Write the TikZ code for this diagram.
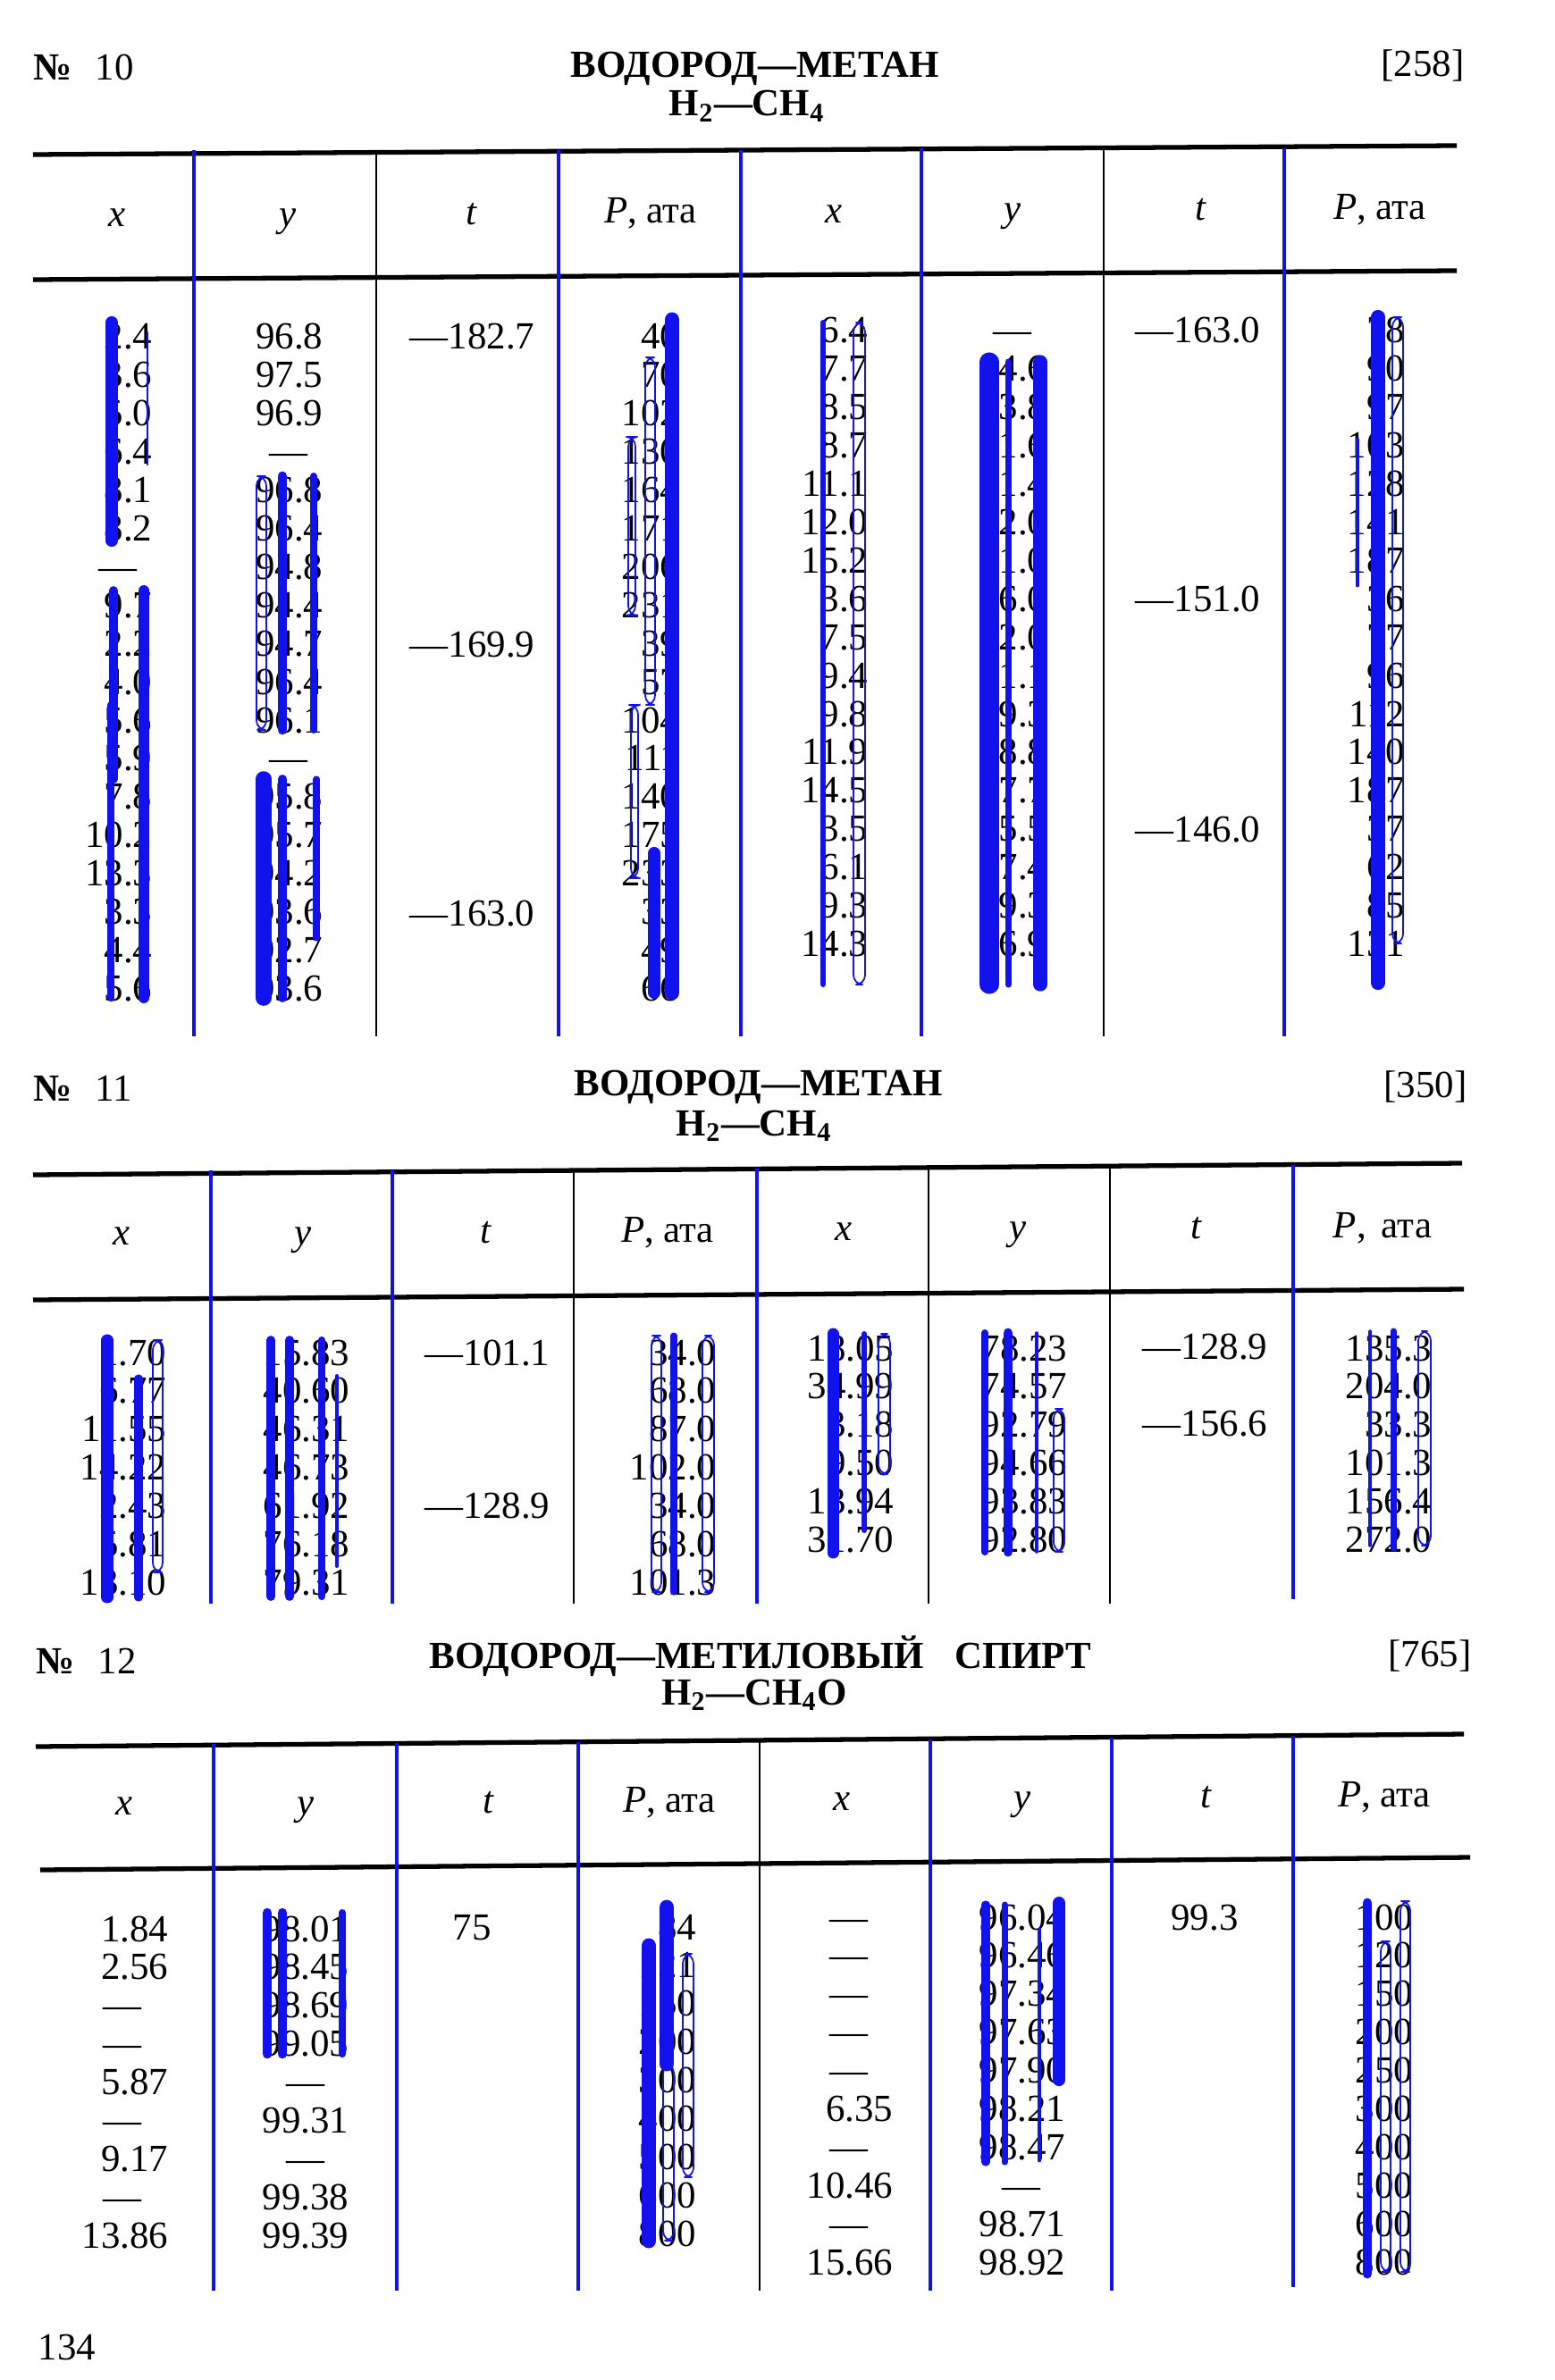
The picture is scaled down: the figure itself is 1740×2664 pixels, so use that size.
\documentclass[tikz,border=0pt]{standalone}
\usepackage{fontspec}
\setmainfont{Liberation Serif}
\definecolor{mark}{RGB}{18,18,238}
\newcommand{\nd}[1][1.8em]{\makebox[#1][c]{—}}
\newcommand{\col}[1]{\begin{tabular}[t]{@{}r@{}}#1\end{tabular}}

\begin{document}
\begin{tikzpicture}[x=0.01cm, y=-0.01cm,
  every node/.style={inner sep=0pt, font=\fontsize{12.2}{12.2}\selectfont},
  num/.style={anchor=base east},
  colhead/.style={anchor=base},
  tabtitle/.style={anchor=base, font=\fontsize{12.2}{14}\selectfont\bfseries},
  hrule/.style={line width=1.5pt},
  vsep/.style={line width=1pt, draw=mark},
  vsepk/.style={line width=0.6pt},
  mk/.style={draw=mark, line cap=round},
  ring/.style={draw=mark, line width=0.5pt, rounded corners=3}]
\useasboundingbox (0,0) rectangle (1740,2664);

\node[anchor=base west] (no10) at (37,90) {\textbf{№}\hspace{0.6em}10};
\node[tabtitle] (name10) at (845,87) {ВОДОРОД—МЕТАН};
\node[tabtitle] (form10) at (836,130) {H\textsubscript{2}—CH\textsubscript{4}};
\node[anchor=base east] (ref10) at (1639,86) {[258]};
\draw[hrule] (37,173) -- (1630,163);
\draw[hrule] (37,313) -- (1630,303);
\draw[vsep] (217,168) -- (217,1160);
\draw[vsepk] (421,168) -- (421,1160);
\draw[vsep] (625,168) -- (625,1160);
\draw[vsep] (829,168) -- (829,1160);
\draw[vsep] (1031,166) -- (1031,1160);
\draw[vsepk] (1235,166) -- (1235,1160);
\draw[vsep] (1437,166) -- (1437,1160);
\node[colhead] (h10x) at (131,254) {\textit{x}};
\node[colhead] (h10y) at (322,254) {\textit{y}};
\node[colhead] (h10t) at (528,252) {\textit{t}};
\node[colhead] (h10p) at (728,250) {\textit{P}, ата};
\node[colhead] (h10x2) at (933,250) {\textit{x}};
\node[colhead] (h10y2) at (1133,248) {\textit{y}};
\node[colhead] (h10t2) at (1344,247) {\textit{t}};
\node[colhead] (h10p2) at (1544,246) {\textit{P}, ата};
\node[num] (d10x) at (171,391) {\col{2.4\\3.6\\5.0\\6.4\\8.1\\8.2\\\nd\\9.7\\2.2\\4.0\\5.6\\5.9\\7.8\\10.2\\13.3\\3.3\\4.4\\5.6}};
\node[num] (d10y) at (362,391) {\col{96.8\\97.5\\96.9\\\nd\\96.8\\96.4\\94.8\\94.4\\94.7\\96.4\\96.1\\\nd\\95.8\\95.7\\94.2\\93.6\\92.7\\93.6}};
\node[num] (d10ta) at (599,391) {—182.7};
\node[num] (d10tb) at (599,735) {—169.9};
\node[num] (d10tc) at (599,1036) {—163.0};
\node[num] (d10p) at (761,391) {\col{40\\70\\102\\130\\164\\171\\206\\231\\39\\57\\104\\111\\140\\175\\233\\33\\49\\66}};
\node[num] (d10x2) at (972,384) {\col{6.4\\7.7\\8.5\\8.7\\11.1\\12.0\\15.2\\3.6\\7.5\\9.4\\9.8\\11.9\\14.5\\3.5\\6.1\\9.3\\14.3}};
\node[num] (d10y2) at (1172,384) {\col{\nd\\94.6\\93.8\\91.6\\91.4\\92.0\\91.0\\86.0\\92.0\\91.1\\89.3\\88.8\\87.7\\85.5\\87.4\\89.3\\86.9}};
\node[num] (d10ta2) at (1411,384) {—163.0};
\node[num] (d10tb2) at (1411,684) {—151.0};
\node[num] (d10tc2) at (1411,942) {—146.0};
\node[num] (d10p2) at (1573,384) {\col{78\\90\\97\\103\\128\\141\\187\\36\\77\\96\\112\\140\\187\\37\\62\\85\\131}};
\draw[mk, line width=4pt] (125,361) -- (125,605);
\draw[mk, line width=0.8pt] (165,372) -- (165,520);
\draw[mk, line width=2.8pt] (127,661) -- (127,872);
\draw[mk, line width=3.4pt] (161,661) -- (161,1117);
\draw[mk, line width=2.3pt] (124,789) -- (124,1117);
\draw[ring] (287,533) rectangle (298,817);
\draw[mk, line width=3.1pt] (316,533) -- (316,817);
\draw[mk, line width=2.3pt] (351,533) -- (351,817);
\draw[mk, line width=5pt] (295,872) -- (295,1117);
\draw[mk, line width=2.8pt] (316,872) -- (316,1117);
\draw[mk, line width=2pt] (354,872) -- (354,1050);
\draw[mk, line width=4.8pt] (752,358) -- (752,1111);
\draw[ring] (722,400) rectangle (733,789);
\draw[ring] (703,489) rectangle (711,689);
\draw[ring] (706,789) rectangle (714,983);
\draw[mk, line width=4pt] (732,955) -- (732,1111);
\draw[mk, line width=1.7pt] (921,361) -- (921,1102);
\draw[ring] (955,361) rectangle (968,1102);
\draw[mk, line width=6pt] (1107,405) -- (1107,1102);
\draw[mk, line width=2pt] (1128,405) -- (1128,1102);
\draw[mk, line width=4.3pt] (1164,405) -- (1164,1102);
\draw[mk, line width=4.6pt] (1542,355) -- (1542,1100);
\draw[ring] (1558,355) rectangle (1570,1056);
\draw[mk, line width=1.4pt] (1519,492) -- (1519,655);

\node[anchor=base west] (no11) at (37,1232) {\textbf{№}\hspace{0.6em}11};
\node[tabtitle] (name11) at (849,1226) {ВОДОРОД—МЕТАН};
\node[tabtitle] (form11) at (844,1271) {H\textsubscript{2}—CH\textsubscript{4}};
\node[anchor=base east] (ref11) at (1642,1228) {[350]};
\draw[hrule] (37,1315) -- (1636,1302);
\draw[hrule] (37,1455) -- (1638,1443);
\draw[vsep] (236,1310) -- (236,1795);
\draw[vsep] (439,1310) -- (439,1795);
\draw[vsepk] (642,1308) -- (642,1795);
\draw[vsep] (847,1308) -- (847,1795);
\draw[vsepk] (1039,1306) -- (1039,1795);
\draw[vsepk] (1242,1305) -- (1242,1795);
\draw[vsep] (1447,1304) -- (1447,1790);
\node[colhead] (h11x) at (136,1393) {\textit{x}};
\node[colhead] (h11y) at (339,1393) {\textit{y}};
\node[colhead] (h11t) at (544,1391) {\textit{t}};
\node[colhead] (h11p) at (747,1390) {\textit{P}, ата};
\node[colhead] (h11x2) at (944,1388) {\textit{x}};
\node[colhead] (h11y2) at (1139,1387) {\textit{y}};
\node[colhead] (h11t2) at (1339,1386) {\textit{t}};
\node[colhead] (h11p2) at (1547,1385) {\textit{P},\hspace{0.4em}ата};
\node[num] (d11x) at (187,1528) {\col{1.70\\6.77\\11.55\\14.22\\2.43\\5.81\\13.10}};
\node[num] (d11y) at (392,1528) {\col{15.83\\40.60\\46.31\\46.73\\61.92\\76.18\\79.31}};
\node[num] (d11ta) at (616,1528) {—101.1};
\node[num] (d11tb) at (616,1699) {—128.9};
\node[num] (d11p) at (802,1528) {\col{34.0\\68.0\\87.0\\102.0\\34.0\\68.0\\101.3}};
\node[num] (d11x2) at (1001,1523) {\col{18.05\\34.99\\3.18\\9.50\\13.94\\31.70}};
\node[num] (d11y2) at (1195,1523) {\col{78.23\\74.57\\92.79\\94.66\\93.83\\92.80}};
\node[num] (d11ta2) at (1419,1521) {—128.9};
\node[num] (d11tb2) at (1419,1607) {—156.6};
\node[num] (d11p2) at (1603,1523) {\col{135.3\\204.0\\33.3\\101.3\\156.4\\272.0}};
\draw[mk, line width=3.7pt] (120,1500) -- (120,1788);
\draw[mk, line width=2.6pt] (155,1543) -- (155,1788);
\draw[ring] (171,1500) rectangle (182,1760);
\draw[mk, line width=2.8pt] (303,1500) -- (303,1787);
\draw[mk, line width=2.8pt] (324,1500) -- (324,1787);
\draw[mk, line width=2.3pt] (360,1500) -- (360,1787);
\draw[mk, line width=1.1pt] (377,1540) -- (377,1753);
\draw[ring] (729,1495) rectangle (740,1782);
\draw[mk, line width=2pt] (754,1495) -- (754,1782);
\draw[ring] (786,1495) rectangle (799,1782);
\draw[mk, line width=3.7pt] (932,1493) -- (932,1738);
\draw[mk, line width=1.7pt] (967,1493) -- (967,1713);
\draw[ring] (983,1493) rectangle (996,1650);
\draw[mk, line width=2.3pt] (1102,1492) -- (1102,1737);
\draw[mk, line width=3.1pt] (1128,1492) -- (1128,1737);
\draw[mk, line width=1pt] (1160,1492) -- (1160,1737);
\draw[ring] (1179,1577) rectangle (1191,1737);
\draw[mk, line width=1pt] (1533,1490) -- (1533,1730);
\draw[mk, line width=2pt] (1559,1490) -- (1559,1733);
\draw[ring] (1587,1490) rectangle (1601,1730);

\node[anchor=base west] (no12) at (40,1873) {\textbf{№}\hspace{0.6em}12};
\node[tabtitle] (name12) at (851,1867) {ВОДОРОД—МЕТИЛОВЫЙ\hspace{0.8em}СПИРТ};
\node[tabtitle] (form12) at (844,1908) {H\textsubscript{2}—CH\textsubscript{4}O};
\node[anchor=base east] (ref12) at (1647,1865) {[765]};
\draw[hrule] (40,1955) -- (1638,1941);
\draw[hrule] (45,2093) -- (1645,2079);
\draw[vsep] (239,1952) -- (239,2564);
\draw[vsep] (444,1951) -- (444,2564);
\draw[vsep] (647,1950) -- (647,2564);
\draw[vsepk] (850,1948) -- (850,2564);
\draw[vsep] (1041,1947) -- (1041,2564);
\draw[vsep] (1244,1945) -- (1244,2564);
\draw[vsep] (1447,1943) -- (1447,2560);
\node[colhead] (h12x) at (139,2031) {\textit{x}};
\node[colhead] (h12y) at (342,2031) {\textit{y}};
\node[colhead] (h12t) at (547,2029) {\textit{t}};
\node[colhead] (h12p) at (749,2028) {\textit{P}, ата};
\node[colhead] (h12x2) at (942,2026) {\textit{x}};
\node[colhead] (h12y2) at (1144,2025) {\textit{y}};
\node[colhead] (h12t2) at (1350,2023) {\textit{t}};
\node[colhead] (h12p2) at (1549,2022) {\textit{P}, ата};
\node[num] (d12x) at (189,2173) {\col{1.84\\2.56\\\nd[2.4em]\\\nd[2.4em]\\5.87\\\nd[2.4em]\\9.17\\\nd[2.4em]\\13.86}};
\node[num] (d12y) at (391,2173) {\col{98.01\\98.45\\98.69\\99.05\\\nd[2.25em]\\99.31\\\nd[2.25em]\\99.38\\99.39}};
\node[anchor=base west] (d12t) at (506,2171) {75};
\node[num] (d12p) at (780,2171) {\col{84\\121\\150\\200\\300\\400\\500\\600\\800}};
\node[num] (d12x2) at (1000,2160) {\col{\nd[2.3em]\\\nd[2.3em]\\\nd[2.3em]\\\nd[2.3em]\\\nd[2.3em]\\6.35\\\nd[2.3em]\\10.46\\\nd[2.3em]\\15.66}};
\node[num] (d12y2) at (1193,2160) {\col{96.04\\96.46\\97.34\\97.63\\97.90\\98.21\\98.47\\\nd[2.3em]\\98.71\\98.92}};
\node[anchor=base] (d12t2) at (1348,2160) {99.3};
\node[num] (d12p2) at (1582,2160) {\col{100\\120\\150\\200\\250\\300\\400\\500\\600\\800}};
\draw[mk, line width=3pt] (299,2141) -- (299,2299);
\draw[mk, line width=3pt] (316,2141) -- (316,2299);
\draw[mk, line width=2.3pt] (383,2141) -- (383,2299);
\draw[mk, line width=4.8pt] (726,2178) -- (726,2508);
\draw[mk, line width=4.8pt] (746,2135) -- (746,2310);
\draw[ring] (742,2310) rectangle (754,2508);
\draw[ring] (764,2187) rectangle (776,2437);
\draw[mk, line width=2.6pt] (1103,2132) -- (1103,2420);
\draw[mk, line width=2pt] (1124,2132) -- (1124,2420);
\draw[mk, line width=1.4pt] (1163,2160) -- (1163,2418);
\draw[mk, line width=4pt] (1185,2130) -- (1185,2328);
\draw[mk, line width=3.1pt] (1530,2130) -- (1530,2545);
\draw[ring] (1545,2173) rectangle (1556,2543);
\draw[ring] (1567,2128) rectangle (1578,2543);

\node[anchor=base west] (page) at (42,2641) {134};
\end{tikzpicture}
\end{document}
